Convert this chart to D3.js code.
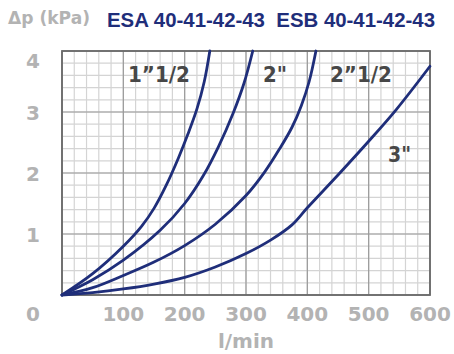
<!DOCTYPE html>
<html>
<head>
<meta charset="utf-8">
<script src="https://cdn.jsdelivr.net/npm/d3@7"></script>
<style>
  body { margin: 0; background: #fff; }
  svg { display: block; }
</style>
</head>
<body>
<div id="chart"></div>
<script>
// Curve data: [flow l/min, pressure drop kPa]
const size15 = [[0,0],[50,0.35],[100,0.8],[130,1.13],[150,1.42],[170,1.8],[190,2.25],[205,2.63],[220,3.05],[232,3.5],[241,4.0]];
const size2 = [[0,0],[50,0.25],[100,0.57],[160,1.06],[200,1.5],[230,1.95],[255,2.43],[279,2.98],[297,3.48],[311,4.0]];
const size25 = [[0,0],[50,0.12],[100,0.32],[150,0.54],[200,0.81],[250,1.16],[300,1.63],[330,2.01],[355,2.4],[375,2.75],[390,3.1],[403,3.5],[414,4.0]];
const size3 = [[0,0],[50,0.04],[100,0.1],[150,0.18],[200,0.29],[250,0.46],[300,0.68],[340,0.9],[375,1.15],[400,1.43],[453,2.0],[500,2.52],[545,3.04],[600,3.75]];

const xTicks = [100, 200, 300, 400, 500, 600];
const yTicks = [1, 2, 3, 4];

const width = 454;
const height = 354;
const m = { left: 62, right: 24, top: 51, bottom: 59 };

const svg = d3.select('#chart')
  .append('svg')
  .attr('width', width)
  .attr('height', height);

const x = d3.scaleLinear().domain([0, 600]).range([m.left, width - m.right]);
const y = d3.scaleLinear().domain([0, 4]).range([height - m.bottom, m.top]);

const navy = '#1f2e7a';
const gray = '#b3b3b3';

// minor grid
const g = svg.append('g');
d3.range(0, 601, 20).forEach(v => {
  g.append('line')
    .attr('x1', x(v)).attr('x2', x(v))
    .attr('y1', y(0)).attr('y2', y(4))
    .attr('stroke', '#d4d4d4')
    .attr('stroke-width', 1.2);
});
d3.range(0, 4.01, 0.2).forEach(v => {
  g.append('line')
    .attr('x1', x(0)).attr('x2', x(600))
    .attr('y1', y(v)).attr('y2', y(v))
    .attr('stroke', '#d4d4d4')
    .attr('stroke-width', 1.2);
});
// major grid on top
d3.range(0, 601, 100).forEach(v => {
  g.append('line').attr('x1', x(v)).attr('x2', x(v)).attr('y1', y(0)).attr('y2', y(4))
    .attr('stroke', '#9a9a9a').attr('stroke-width', 1.2);
});
d3.range(0, 5).forEach(v => {
  g.append('line').attr('x1', x(0)).attr('x2', x(600)).attr('y1', y(v)).attr('y2', y(v))
    .attr('stroke', '#9a9a9a').attr('stroke-width', 1.2);
});

// frame
svg.append('rect')
  .attr('x', x(0)).attr('y', y(4))
  .attr('width', x(600) - x(0)).attr('height', y(0) - y(4))
  .attr('fill', 'none')
  .attr('stroke', '#6a6a6a')
  .attr('stroke-width', 1.8);

// curves
const line = d3.line()
  .x(d => x(d[0]))
  .y(d => y(d[1]))
  .curve(d3.curveCatmullRom.alpha(0.5));

[size15, size2, size25, size3].forEach(s => {
  svg.append('path')
    .datum(s)
    .attr('d', line)
    .attr('fill', 'none')
    .attr('stroke', navy)
    .attr('stroke-width', 2.8)
    .attr('stroke-linecap', 'round');
});

// tick labels
const tickFont = 'DejaVu Sans, sans-serif';
svg.selectAll('.ylab')
  .data(yTicks)
  .enter()
  .append('text')
  .attr('x', 33)
  .attr('y', d => Math.max(y(d), 60) + 7.5)
  .attr('text-anchor', 'middle')
  .attr('fill', gray)
  .style('font-family', tickFont)
  .style('font-weight', 'bold')
  .style('font-size', '20px')
  .text(d => d);

svg.append('text')
  .attr('x', 33).attr('y', 321)
  .attr('text-anchor', 'middle')
  .attr('fill', gray)
  .style('font-family', tickFont)
  .style('font-weight', 'bold')
  .style('font-size', '20px')
  .text('0');

svg.selectAll('.xlab')
  .data(xTicks)
  .enter()
  .append('text')
  .attr('x', d => x(d))
  .attr('y', 321)
  .attr('text-anchor', 'middle')
  .attr('fill', gray)
  .style('font-family', tickFont)
  .style('font-weight', 'bold')
  .style('font-size', '20px')
  .text(d => d);

svg.append('text')
  .attr('x', 246).attr('y', 348)
  .attr('text-anchor', 'middle')
  .attr('fill', gray)
  .style('font-family', tickFont)
  .style('font-weight', 'bold')
  .style('font-size', '20px')
  .text('l/min');

// titles
svg.append('text')
  .attr('x', 8).attr('y', 24)
  .attr('fill', gray)
  .style('font-family', tickFont)
  .style('font-weight', 'bold')
  .style('font-size', '17px')
  .attr('textLength', 82)
  .attr('lengthAdjust', 'spacingAndGlyphs')
  .text('Δp (kPa)');

svg.append('text')
  .attr('x', 107).attr('y', 27)
  .attr('fill', navy)
  .style('font-family', 'Liberation Sans, sans-serif')
  .style('font-weight', 'bold')
  .style('font-size', '20px')
  .attr('textLength', 328)
  .attr('lengthAdjust', 'spacingAndGlyphs')
  .style('white-space', 'pre')
  .text('ESA 40-41-42-43  ESB 40-41-42-43');

// curve labels
const curveLabels = [
  { text: '1”1/2', x: 128, y: 82, w: 62 },
  { text: '2"', x: 263, y: 82, w: 24 },
  { text: '2”1/2', x: 330, y: 82, w: 62 },
  { text: '3"', x: 388, y: 162, w: 23 }
];
svg.selectAll('.clab')
  .data(curveLabels)
  .enter()
  .append('text')
  .attr('x', d => d.x)
  .attr('y', d => d.y)
  .attr('fill', '#474747')
  .style('font-family', tickFont)
  .style('font-weight', 'bold')
  .style('font-size', '22px')
  .attr('textLength', d => d.w)
  .attr('lengthAdjust', 'spacingAndGlyphs')
  .text(d => d.text);
</script>
</body>
</html>
